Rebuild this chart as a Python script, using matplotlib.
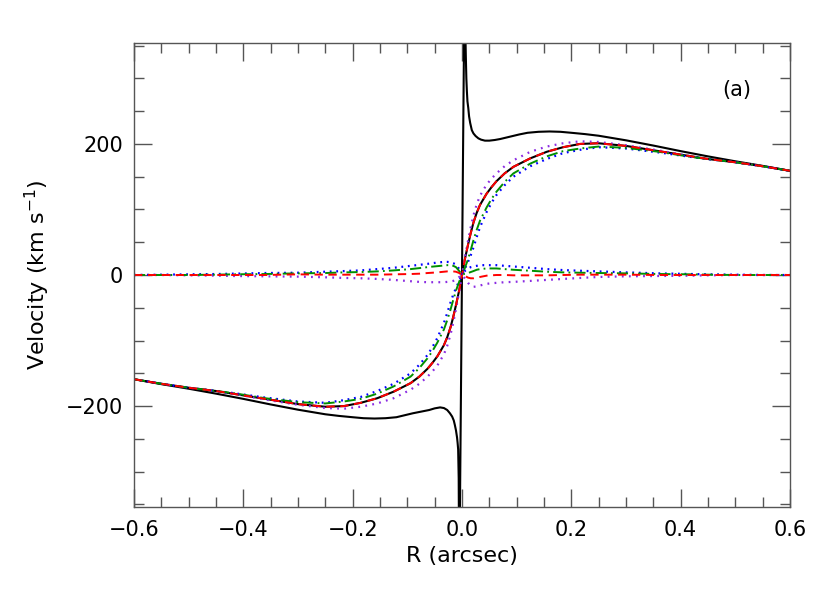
import numpy as np
import matplotlib
matplotlib.use("Agg")
import matplotlib.pyplot as plt
from matplotlib.ticker import MultipleLocator

plt.rcParams['font.family'] = ['DejaVu Sans']
plt.rcParams['lines.scale_dashes'] = False

# radius grid shared by the model curves (arcsec)
r = [-0.6, -0.55, -0.5, -0.45, -0.42, -0.36, -0.30, -0.25, -0.216, -0.185,
     -0.155, -0.125, -0.094, -0.078, -0.063, -0.054, -0.045, -0.033, -0.027, -0.021,
     -0.016, -0.011, -0.005,
     0.0,
     0.005, 0.011, 0.016, 0.021, 0.027, 0.033, 0.045, 0.054, 0.063, 0.078,
     0.094, 0.125, 0.155, 0.185, 0.216, 0.25, 0.30, 0.36, 0.42, 0.45,
     0.5, 0.55, 0.6]

# velocity curves
v_black = [-159, -166, -172, -177, -181, -189, -197, -201, -200, -195,
           -188, -178, -165, -155, -143, -134, -124, -107, -95, -80,
           -64, -46, -23,
           0,
           23, 46, 64, 80, 95, 107, 124, 134, 143, 155,
           165, 178, 188, 195, 200, 201, 197, 189, 181, 177,
           172, 166, 159]
v_red = [-159, -166, -172, -177, -181, -189, -197, -201, -200, -195,
         -188, -178, -165, -155, -143, -134, -124, -107, -95, -80,
         -64, -46, -23,
         0,
         23, 46, 64, 80, 95, 107, 124, 134, 143, 155,
         165, 178, 188, 195, 200, 201, 197, 189, 181, 177,
         172, 166, 159]
v_green = [-159, -166, -172, -177, -180, -188, -194, -196, -193, -189,
           -181, -170, -155, -142, -127, -116, -103, -83, -69, -53,
           -38, -24, -10,
           0,
           10, 24, 38, 53, 69, 83, 103, 116, 127, 142,
           155, 170, 181, 189, 193, 196, 194, 188, 180, 177,
           172, 166, 159]
v_blue = [-159, -166, -172, -177, -180, -187, -193, -195, -191, -186,
          -177, -166, -150, -137, -122, -110, -96, -73, -58, -42,
          -30, -20, -9,
          0,
          9, 20, 30, 42, 58, 73, 96, 110, 122, 137,
          150, 166, 177, 186, 191, 195, 193, 187, 180, 177,
          172, 166, 159]
v_purple = [-159, -166, -172, -177, -181, -190, -198, -203, -204, -201,
            -196, -188, -175, -166, -155, -147, -138, -121, -108, -91,
            -73, -52, -25,
            0,
            25, 52, 73, 91, 108, 121, 138, 147, 155, 166,
            175, 188, 196, 201, 204, 203, 198, 190, 181, 177,
            172, 166, 159]

# near-zero curves
z_green = [0, 0, 0, 0.5, 1, 1.5, 2.5, 3, 4, 4.5,
           5.5, 7, 9, 10.5, 12, 12.8, 13.5, 14.5, 15, 15,
           14, 12, 6,
           0,
           2, 3, 4.5, 6, 8, 9, 10, 10, 10, 9,
           8, 6.5, 5, 4, 3.5, 3, 2.5, 1.5, 1, 0.5,
           0, 0, 0]
z_blue = [0, 0.5, 1, 1.5, 2, 3, 3.5, 5, 6, 7,
          9, 11, 14, 15.5, 17, 18, 19, 20, 20, 19.5,
          18, 16, 9,
          0,
          6, 10, 12, 13, 14, 15, 15, 15, 15, 14,
          13, 11, 9, 7.5, 6.5, 5.5, 4, 2.5, 1.5, 1,
          0.5, 0, 0]
z_red = [0, 0, 0, 0, 0, 0, 1, 0.5, 0.5, 0.5,
         0.5, 1, 1.5, 2, 3, 3.5, 4, 5, 5.5, 5.5,
         5.5, 5, 3,
         0,
         -1, -4, -5, -5, -4, -3, -1, -0.5, 0, 0,
         -0.5, -0.5, -0.5, 0, 0.5, 0.5, 0.5, 0, 0, 0,
         0, 0, 0]
z_purple = [0, 0, -0.5, -1, -1.5, -2, -2.5, -3.5, -4.5, -5,
            -6, -7.5, -9.5, -10.5, -11, -11, -11, -11, -10.5, -10,
            -9, -7, -3,
            0,
            -5, -12, -16, -18, -17.5, -16, -13.5, -12.5, -12, -11,
            -10.5, -9, -7.5, -6, -4.5, -3, -2, -1.5, -1, -0.5,
            0, 0, 0]

# circular velocity incl. central point mass
r_kep = [-0.6, -0.55, -0.5, -0.45, -0.4, -0.35, -0.3, -0.275, -0.25, -0.225,
         -0.2, -0.18, -0.16, -0.14, -0.12, -0.105, -0.09, -0.075, -0.06, -0.05,
         -0.04, -0.033, -0.027, -0.022, -0.018, -0.015, -0.013, -0.011, -0.009, -0.008,
         -0.007, -0.006, -0.005,
         0.005, 0.006, 0.007, 0.008, 0.009, 0.01, 0.0115, 0.013, 0.015, 0.018,
         0.021, 0.025, 0.03, 0.035, 0.042, 0.05, 0.06, 0.07, 0.08, 0.09,
         0.105, 0.12, 0.14, 0.16, 0.18, 0.2, 0.225, 0.25, 0.275, 0.3,
         0.35, 0.4, 0.45, 0.5, 0.55, 0.6]
v_kep = [-159, -166.5, -173.5, -181, -189, -197.5, -205.5, -209, -212.5, -215,
         -217, -218.5, -219, -218.5, -217, -214, -211, -208.5, -206, -203.5,
         -202, -203, -206, -211, -216, -222, -229, -237, -248, -256,
         -266, -310, -480,
         480, 380, 335, 300, 280, 265, 255, 242, 232, 221,
         216, 212, 208.5, 206.5, 205, 205, 206, 207.5, 209.5, 211.5,
         214.5, 217, 218.5, 219, 218.5, 217, 215, 212.5, 209, 205.5,
         197.5, 189, 181, 173.5, 166.5, 159]

fig = plt.figure(figsize=(8.3, 5.93), dpi=100)
ax = fig.add_axes([0.1614, 0.145, 0.7904, 0.7825])

dot_p = (0, (1.3, 3.8))
dot_b = (0, (1.3, 3.4))
dashdot = (0, (8, 3, 1.3, 3))
dash = (0, (6, 4))

ax.plot(r_kep, v_kep, color='black', lw=1.5)
ax.plot(r, v_black, color='black', lw=1.5)
ax.plot(r, v_purple, color='#8a2be2', lw=1.6, ls=dot_p)
ax.plot(r, v_blue, color='blue', lw=1.6, ls=dot_b)
ax.plot(r, v_green, color='#009000', lw=1.4, ls=dashdot)
ax.plot(r, v_red, color='red', lw=1.4, ls=dash)

ax.plot(r, z_purple, color='#8a2be2', lw=1.6, ls=dot_p)
ax.plot(r, z_blue, color='blue', lw=1.6, ls=dot_b)
ax.plot(r, z_green, color='#009000', lw=1.4, ls=dashdot)
ax.plot(r, z_red, color='red', lw=1.4, ls=dash)

ax.set_xlim(-0.6, 0.6)
ax.set_ylim(-354, 354)
ax.xaxis.set_major_locator(MultipleLocator(0.2))
ax.xaxis.set_minor_locator(MultipleLocator(0.05))
ax.yaxis.set_major_locator(MultipleLocator(200))
ax.yaxis.set_minor_locator(MultipleLocator(50))
ax.xaxis.set_major_formatter(plt.FuncFormatter(lambda v, p: ('%.1f' % v).replace('-', '\u2212')))

for s in ax.spines.values():
    s.set_color('#555555')
    s.set_linewidth(1.0)
ax.tick_params(which='both', direction='in', top=True, right=True, color='#555555', labelsize=15)
ax.tick_params(which='major', length=13, width=1.0)
ax.tick_params(which='minor', length=7, width=1.0)
ax.tick_params(axis='x', pad=9)
ax.tick_params(axis='y', pad=8)

ax.set_xlabel('R (arcsec)', fontsize=16, labelpad=5)
ax.set_ylabel('Velocity (km s$^{-1}$)', fontsize=16, labelpad=10)
ax.text(0.503, 282, '(a)', fontsize=15, ha='center', va='center')

fig.savefig('out.png', dpi=100)
